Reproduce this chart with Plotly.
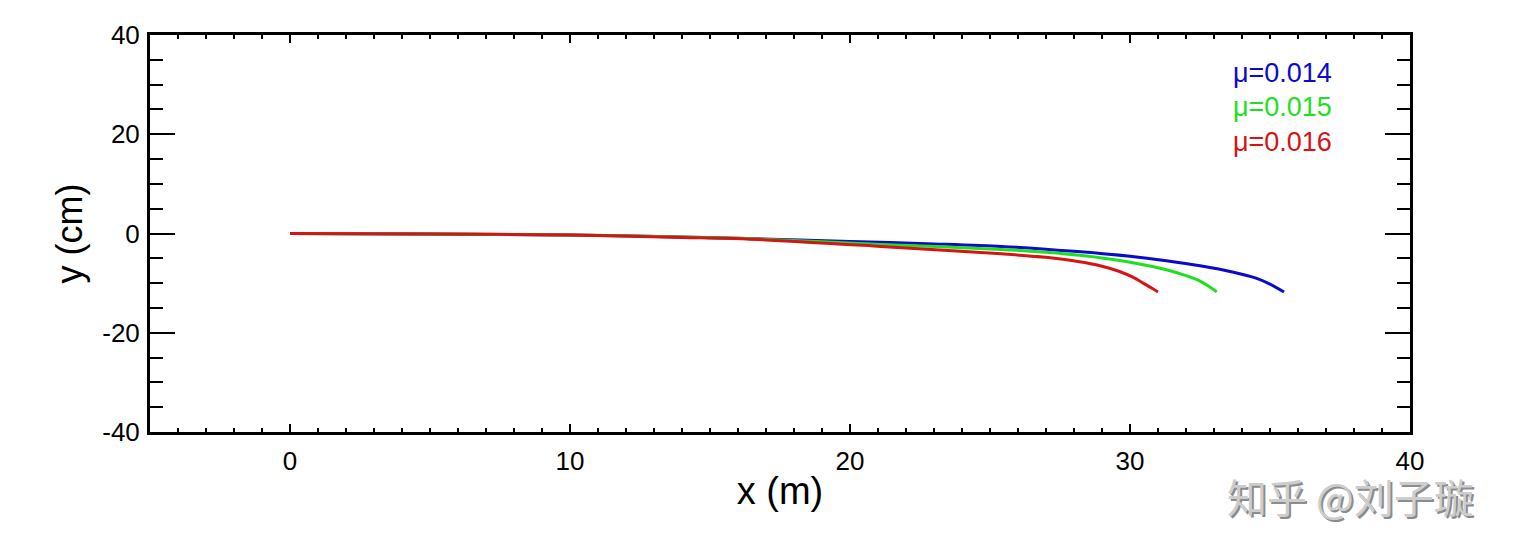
import plotly.graph_objects as go

# trajectories: x in m, y in cm
x_014 = [0, 5, 10, 14, 16.3, 20, 23, 25.4, 28, 30, 31.3, 32.5, 33.7, 34.5, 35.0, 35.5]
y_014 = [0, -0.1, -0.3, -0.7, -1.0, -1.6, -2.1, -2.6, -3.6, -4.6, -5.5, -6.5, -7.8, -9.0, -10.2, -11.8]

x_015 = [0, 5, 10, 14, 16.3, 21.1, 25.4, 27, 28.2, 29.2, 30.1, 31.3, 32.0, 32.5, 32.8, 33.1]
y_015 = [0, -0.1, -0.3, -0.7, -1.0, -2.2, -3.2, -3.8, -4.4, -5.1, -5.9, -7.3, -8.5, -9.6, -10.6, -11.8]

x_016 = [0, 5, 10, 14, 16.3, 21.1, 25.4, 27, 28.2, 29.0, 29.6, 30.1, 30.5, 30.8, 31.0]
y_016 = [0, -0.1, -0.3, -0.8, -1.1, -2.6, -4.1, -4.8, -5.7, -6.6, -7.6, -8.8, -10.1, -11.1, -11.8]

labels = ['\u03bc=0.014', '\u03bc=0.015', '\u03bc=0.016']
colors = ['rgb(10,10,205)', 'rgb(30,225,30)', 'rgb(215,20,20)']

x_ticks = [0, 10, 20, 30, 40]
y_ticks = [-40, -20, 0, 20, 40]
y_ticktext = ['-40', '-20', '0', '20', '40']

fig = go.Figure()
for xs, ys, name, c in zip([x_014, x_015, x_016], [y_014, y_015, y_016], labels, colors):
    fig.add_trace(go.Scatter(x=xs, y=ys, mode='lines', name=name,
                             line=dict(color=c, width=3, shape='spline', smoothing=0.8),
                             showlegend=False))

# legend text in the top right corner
for i, (name, c) in enumerate(zip(labels, colors)):
    fig.add_annotation(x=0.858, y=0.905 - i * 0.087, xref='paper', yref='paper',
                       text=name, showarrow=False, xanchor='left', yanchor='middle',
                       font=dict(family='Liberation Sans', size=27, color=c))

# watermark (shadow first, then the text)
for dx, dy, col in [(2, -2, 'rgb(140,140,140)'), (0, 0, 'rgb(205,205,205)')]:
    fig.add_annotation(x=1.052, y=-0.162, xref='paper', yref='paper',
                       text='知乎 @刘子璇', showarrow=False, xanchor='right', yanchor='middle',
                       xshift=dx, yshift=dy,
                       font=dict(family='Noto Sans CJK SC', size=40, color=col))

axis_common = dict(showline=True, linewidth=3, linecolor='black', mirror='ticks',
                   ticks='inside', tickcolor='black', showgrid=False, zeroline=False,
                   tickfont=dict(family='Liberation Sans', size=26, color='black'))

fig.update_xaxes(range=[-5, 40], tickvals=x_ticks, ticklen=8, tickwidth=2,
                 ticklabelstandoff=4,
                 minor=dict(dtick=1, ticklen=4, tickwidth=2, ticks='inside', tickcolor='black'),
                 title=dict(text='x (m)', standoff=3,
                            font=dict(family='Liberation Sans', size=38, color='black')),
                 **axis_common)
fig.update_yaxes(range=[-40, 40], tickvals=y_ticks, ticktext=y_ticktext, ticklen=25, tickwidth=2,
                 ticklabelstandoff=2,
                 minor=dict(dtick=5, ticklen=13, tickwidth=2, ticks='inside', tickcolor='black'),
                 title=dict(text='y (cm)', standoff=9,
                            font=dict(family='Liberation Sans', size=36, color='black')),
                 **axis_common)

# page body adds 8 px, so margins are shifted to keep the plot area in place
fig.update_layout(width=1514, height=552, plot_bgcolor='white', paper_bgcolor='white',
                  margin=dict(l=142, r=112, t=23, b=128))

fig.write_html("out.html")
